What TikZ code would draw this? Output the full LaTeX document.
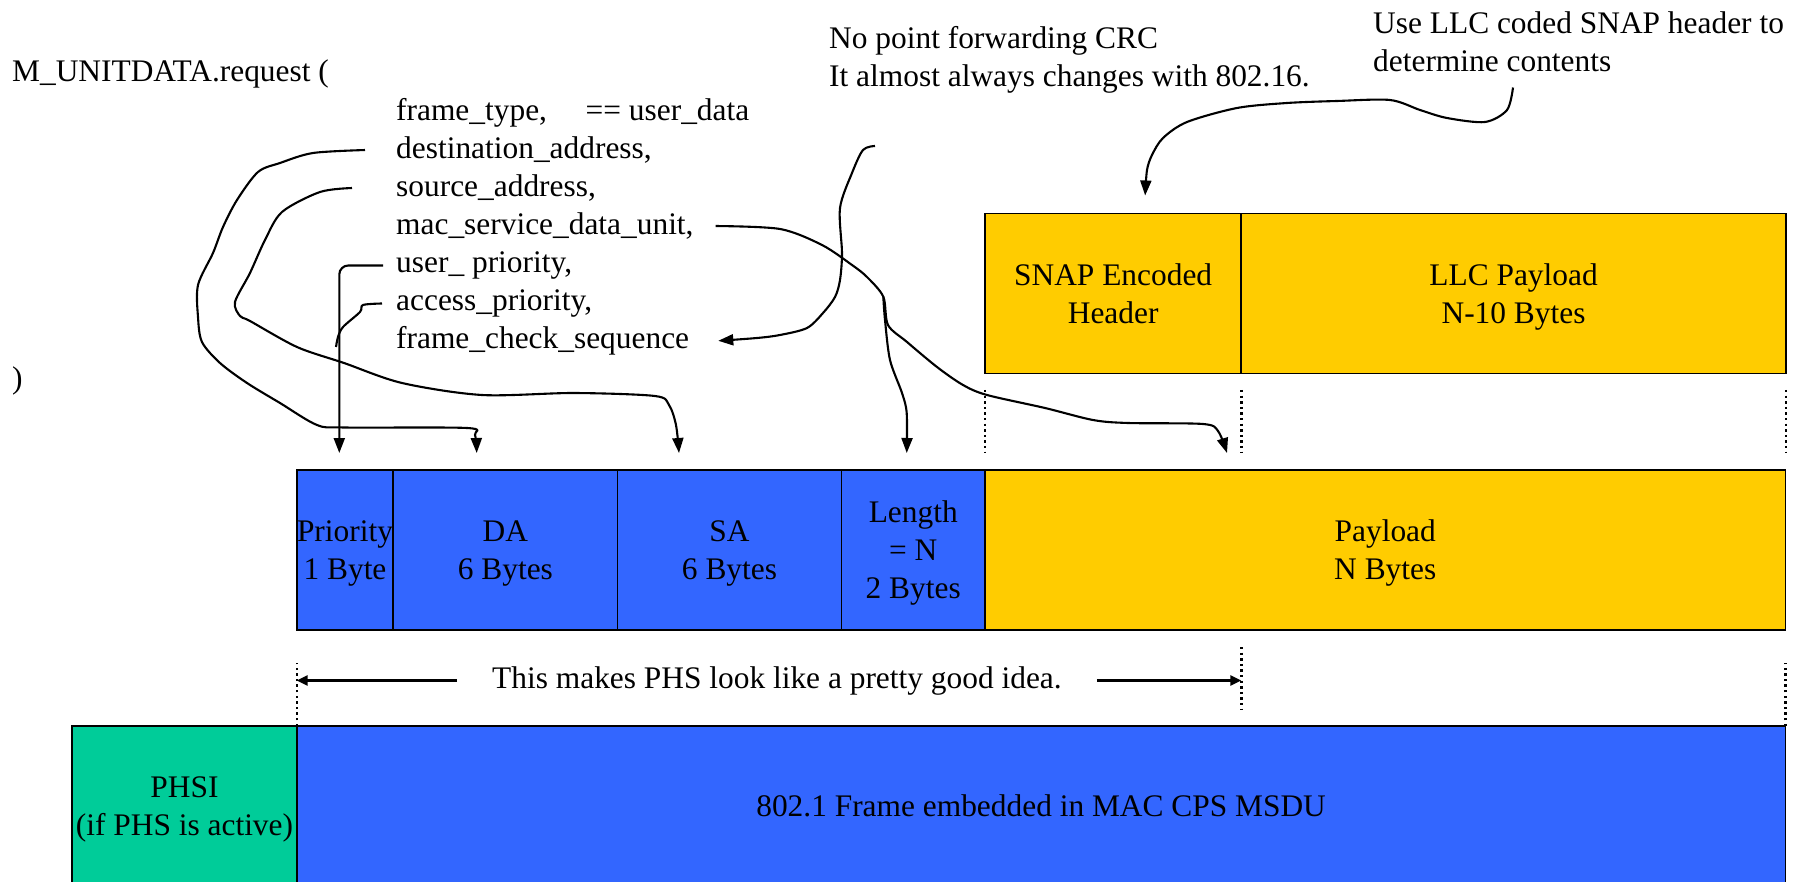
\documentclass[tikz,border=0pt]{standalone}
\usepackage{fontspec}
\setmainfont{Liberation Serif}
\usetikzlibrary{positioning,arrows.meta}
\definecolor{fieldblue}{RGB}{51,102,255}
\definecolor{fieldgold}{RGB}{255,204,0}
\definecolor{phsgreen}{RGB}{0,204,153}

\begin{document}
\begin{tikzpicture}[x=1pt, y=-1pt, font=\fontsize{31.4}{38}\selectfont]
\tikzset{field/.style={draw, line width=1.8pt, outer sep=0pt, inner sep=0pt,
                       minimum height=160pt, align=center, text depth=-10pt},
         txt/.style={inner sep=0pt, anchor=base west, align=left},
         conn/.style={line width=2.1pt, -{Triangle[length=15pt,width=11pt]}},
         wide/.style={line width=3.4pt, -{Triangle[length=11pt,width=10pt]}},
         guide/.style={line width=2.4pt, dash pattern=on 2.4pt off 3.2pt}}
\useasboundingbox (0,0) rectangle (1810,882);

\node(request) [txt] at (12,82) {M\_UNITDATA.request (};
\node(close) [txt] at (12,389) {)};
\node(ftype) [txt] at (396,120.5) {frame\_type,};
\node(usrdata) [txt] at (585.5,120.5) {== user\_data};
\node(dest) [txt] at (396,158.5) {destination\_address,};
\node(src) [txt] at (396,196.5) {source\_address,};
\node(msdu) [txt] at (396,234.5) {mac\_service\_data\_unit,};
\node(uprio) [txt] at (396,272.5) {user\_ priority,};
\node(aprio) [txt] at (396,310.5) {access\_priority,};
\node(fcs) [txt] at (396,348.5) {frame\_check\_sequence};

\node(crcnote) [txt] at (829,87)
  {No point forwarding CRC\\
   It almost always changes with 802.16.};
\node(snapnote) [txt] at (1373,72)
  {Use LLC coded SNAP header to\\
   determine contents};

\node(snap) [field, fill=fieldgold, minimum width=256.3pt, anchor=north west]
  at (985,213.5) {SNAP Encoded\\Header};
\node(llc) [field, fill=fieldgold, minimum width=544.5pt, right=0pt of snap]
  {LLC Payload\\N-10 Bytes};

\node(prio) [field, fill=fieldblue, minimum width=96.6pt, anchor=north west]
  at (296.7,470) {Priority\\1 Byte};
\node(da) [field, fill=fieldblue, minimum width=224.2pt, right=0pt of prio]
  {DA\\6 Bytes};
\node(sa) [field, fill=fieldblue, minimum width=224pt, right=0pt of da]
  {SA\\6 Bytes};
\node(len) [field, fill=fieldblue, minimum width=143.5pt, right=0pt of sa]
  {Length\\= N\\2 Bytes};
\node(payload) [field, fill=fieldgold, minimum width=800.5pt, right=0pt of len]
  {Payload\\N Bytes};

\node(phsi) [field, fill=phsgreen, minimum width=224.4pt, anchor=north west]
  at (72.3,726) {PHSI\\(if PHS is active)};
\node(frame) [field, fill=fieldblue, minimum width=1488.8pt, right=0pt of phsi]
  {802.1 Frame embedded in MAC CPS MSDU};

\draw[guide] ([yshift=-16.5pt]snap.south west) -- ++(0,63);
\draw[guide] ([yshift=-16.5pt]llc.south west) -- ++(0,63);
\draw[guide] ([yshift=-16.5pt]llc.south east) -- ++(0,63);
\coordinate (mid) at (llc.south west |- payload.south);
\draw[guide] ([yshift=-17pt]mid) -- ++(0,62);
\draw[guide] (frame.north west) -- ++(0,-63);
\draw[guide] (frame.north east) -- ++(0,-63);

\node(idea) [txt] at (492,688) {This makes PHS look like a pretty good idea.};
\draw[wide] ([xshift=-35pt]idea.west) -- (idea.west -| frame.north west);
\draw[wide] ([xshift=35pt]idea.east) -- (idea.east -| mid);

\coordinate (fork) at (883.3,296.7);
\coordinate (merge) at (336,347);

\draw[conn] plot[smooth] coordinates {([xshift=-31pt]dest.west) (313,153)
  (280,163) (258,172) (237,200) (223,227) (213,253) (198,285) (198,317)
  (202,342) (220,363) (247,383) (280,403) (317,425) (345,427.5) (467,428)
  (475,435) ([xshift=-28.7pt,yshift=17pt]da.north)};
\draw[conn] plot[smooth] coordinates {([xshift=-44pt]src.west) (320,192)
  (282,212) (265,240) (250,273) (235,302) (240,316) (250,321) (297,347)
  (344,363) (402,383) (482,395) (574,393) (655,396) (669,405) (676,425)
  ([xshift=-50.5pt,yshift=17pt]sa.north)};
\draw[conn, rounded corners=9pt] ([xshift=-13pt]uprio.west)
  -| ([xshift=-5.7pt,yshift=17pt]prio.north);
\draw[line width=2.1pt] plot[smooth] coordinates {([xshift=-14pt]aprio.west)
  (363,305) (360,312) (343,327) (338,337) (merge)};
\draw[conn] plot[smooth] coordinates {([xshift=22pt]msdu.east) (780,229)
  (822,245) (852,265) (867,277) (fork) (888,325) (907,342) (937,367)
  (963,385) (987,395) (1045,408) (1093,420) (1128,423) (1203,424) (1218,431)
  ([xshift=242pt,yshift=17pt]payload.north west)};
\draw[conn] plot[smooth] coordinates {(fork) (885,320) (890,360) (902,393)
  (906.7,413) ([xshift=-6.5pt,yshift=17pt]len.north)};
\draw[conn] plot[smooth] coordinates {([xshift=46pt,yshift=-52pt]crcnote.south west)
  (863,150) (852,173) (840,208) (842,253) (840,280) (835,297) (823,313)
  (807,328) (780,335) (757,338) ([xshift=29pt]fcs.east)};
\draw[conn] plot[smooth] coordinates {([xshift=140pt,yshift=-15pt]snapnote.south west)
  (1507,110) (1485,122) (1447,118) (1420,110) (1390,100) (1337,101) (1287,103)
  (1237,108) (1187,122) (1163,138) (1152,155) (1147,170)
  ([xshift=32pt,yshift=18pt]snap.north)};

\end{tikzpicture}
\end{document}
